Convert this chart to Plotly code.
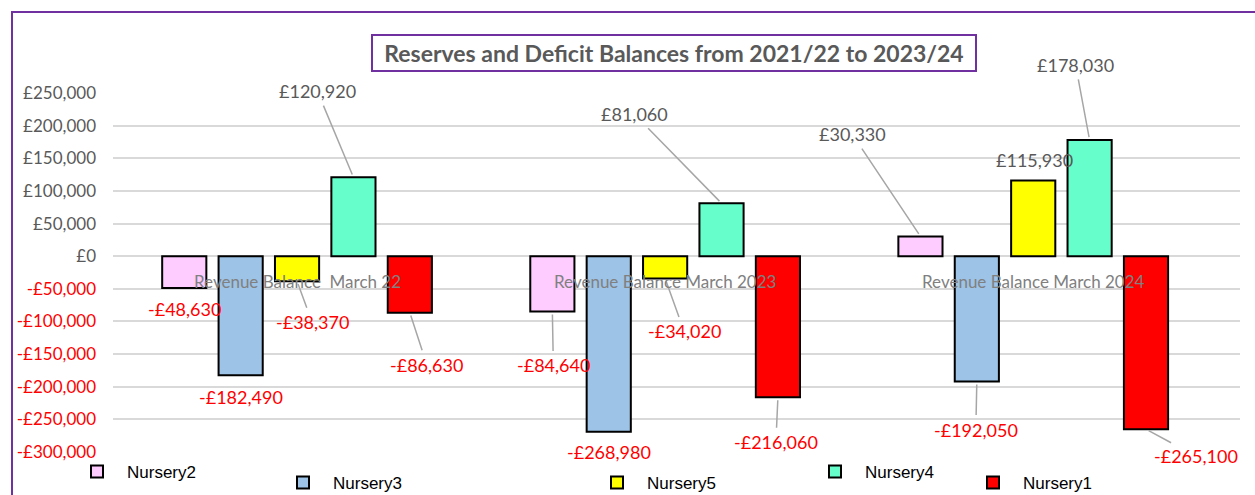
import plotly.graph_objects as go

# ---------------- data ----------------
categories = ["Revenue Balance  March 22", "Revenue Balance March 2023", "Revenue Balance March 2024"]
series_names = ["Nursery2", "Nursery3", "Nursery5", "Nursery4", "Nursery1"]
nursery2 = [-48630, -84640, 30330]
nursery3 = [-182490, -268980, -192050]
nursery5 = [-38370, -34020, 115930]
nursery4 = [120920, 81060, 178030]
nursery1 = [-86630, -216060, -265100]
tick_values = [250000, 200000, 150000, 100000, 50000, 0,
               -50000, -100000, -150000, -200000, -250000, -300000]
title_text = "Reserves and Deficit Balances from 2021/22 to 2023/24"

# ---------------- styles ----------------
series_values = [nursery2, nursery3, nursery5, nursery4, nursery1]
series_colors = ["#FFCCFF", "#9DC3E6", "#FFFF00", "#66FFCC", "#FF0000"]
GREY = "#595959"
RED = "#FF0000"
FONT = "Lato"

# label placement (pixel offsets of label centre from bar end)
label_style = {
    (0, 0): ("shift", 0, 21), (0, 1): ("arrow", 1, 54), (0, 2): ("arrow", -68, -102),
    (1, 0): ("shift", 0, 22), (1, 1): ("shift", 0, 20), (1, 2): ("arrow", -1, 48),
    (2, 0): ("arrow", 15, 41), (2, 1): ("arrow", 19, 53), (2, 2): ("shift", 1, -21),
    (3, 0): ("arrow", -36, -86), (3, 1): ("arrow", -87, -89), (3, 2): ("arrow", -14, -75),
    (4, 0): ("arrow", 17, 52), (4, 1): ("arrow", -2, 45), (4, 2): ("arrow", 50, 27),
}
legend_pos_px = [(97, 472), (303, 483), (617, 483), (835, 472), (993, 483)]

W, H = 1255, 495
ML, MR, MT, MB = 113, 15, 93, 43
PW, PH = W - ML - MR, H - MT - MB
BARGAP, GROUPGAP = 0.234, 0.217
LEG_ITEMW = 50


def px_x(px):
    return (px - ML) / PW


def px_y(py):
    return (MT + PH - py) / PH


def money(v):
    return ("-" if v < 0 else "") + "£{:,}".format(abs(v))


fig = go.Figure()
for k, (name, vals, col) in enumerate(zip(series_names, series_values, series_colors)):
    fig.add_trace(go.Bar(
        name=name, x=categories, y=vals,
        marker=dict(color=col, line=dict(color="#000000", width=2)),
        legend="legend" if k == 0 else "legend%d" % (k + 1),
        hoverinfo="skip",
    ))

# data labels
n = len(series_names)
slot = (1 - BARGAP) / n
annotations = []
for k, vals in enumerate(series_values):
    for g, v in enumerate(vals):
        xpos = g + (k - (n - 1) / 2) * slot
        mode, dx, dy = label_style[(k, g)]
        color = RED if v < 0 else GREY
        if mode == "shift":
            annotations.append(dict(
                x=xpos, y=v, xref="x", yref="y", text=money(v), showarrow=False,
                xshift=dx, yshift=-dy,
                font=dict(family=FONT, size=18, color=color)))
        else:
            annotations.append(dict(
                x=xpos, y=v, xref="x", yref="y", text=money(v), showarrow=True,
                ax=dx, ay=dy, arrowhead=0, arrowwidth=1.5, arrowcolor="#A6A6A6",
                standoff=3, startstandoff=2,
                font=dict(family=FONT, size=18, color=color)))

# category labels near zero line
for g, c in enumerate(categories):
    annotations.append(dict(
        x=g, y=0, xref="x", yref="y", text=c, showarrow=False, yshift=-25,
        font=dict(family=FONT, size=17, color="#808080")))

# title in a box
annotations.append(dict(
    x=px_x(674), y=px_y(53), xref="paper", yref="paper", text="<b>%s</b>" % title_text,
    showarrow=False, xanchor="center", yanchor="middle",
    bordercolor="#7030A0", borderwidth=2, borderpad=0, width=602, height=34,
    font=dict(family=FONT, size=23, color=GREY)))

tick_text = []
for t in tick_values:
    if t < 0:
        tick_text.append('<span style="color:%s">%s</span>' % (RED, money(t)))
    else:
        tick_text.append(money(t))

layout_legends = {}
for k, (lx, ly) in enumerate(legend_pos_px):
    key = "legend" if k == 0 else "legend%d" % (k + 1)
    layout_legends[key] = dict(
        x=px_x(lx - 30), y=px_y(ly), xanchor="left", yanchor="middle",
        bgcolor="rgba(0,0,0,0)", borderwidth=0,
        font=dict(family="Liberation Sans", size=17, color="#000000"),
        itemwidth=LEG_ITEMW, tracegroupgap=0)

fig.update_layout(
    width=W, height=H,
    margin=dict(l=ML, r=MR, t=MT, b=MB, pad=0, autoexpand=False),
    paper_bgcolor="white", plot_bgcolor="white",
    barmode="group", bargap=BARGAP, bargroupgap=GROUPGAP,
    showlegend=True,
    xaxis=dict(type="category", showticklabels=False, showgrid=False, zeroline=False,
               showline=False, ticks="", fixedrange=True),
    yaxis=dict(range=[-300000, 250000], tickvals=tick_values, ticktext=tick_text,
               showgrid=True, gridcolor="#D9D9D9", gridwidth=2,
               zeroline=True, zerolinecolor="#D9D9D9", zerolinewidth=2,
               showline=False, ticks="", ticklabelstandoff=16,
               tickfont=dict(family=FONT, size=17, color=GREY)),
    annotations=annotations,
    shapes=[dict(type="rect", xref="paper", yref="paper",
                 x0=px_x(12), x1=px_x(1275), y0=px_y(520), y1=px_y(12),
                 line=dict(color="#7030A0", width=2), fillcolor="rgba(0,0,0,0)",
                 layer="above")],
    **layout_legends,
)

fig.write_html("out.html")
